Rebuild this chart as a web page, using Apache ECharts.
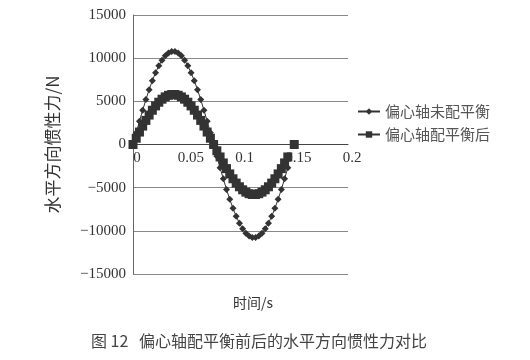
<!DOCTYPE html>
<html><head><meta charset="utf-8">
<script src="https://cdn.jsdelivr.net/npm/echarts@6/dist/echarts.min.js"></script>
<style>html,body{margin:0;padding:0;background:#fff}#c{width:530px;height:360px}</style>
</head><body><div id="c"></div>
<script>
var times = [0,0.003,0.006,0.009,0.012,0.015,0.018,0.021,0.024,0.027,0.03,0.033,0.036,0.039,0.042,0.045,0.048,0.051,0.054,0.057,0.06,0.063,0.066,0.069,0.072,0.075,0.078,0.081,0.084,0.087,0.09,0.093,0.096,0.099,0.102,0.105,0.108,0.111,0.114,0.117,0.12,0.123,0.126,0.129,0.132,0.135,0.138,0.141,0.144,0.147,0.15];
var unbalanced = [0,1353,2686,3975,5203,6348,7393,8321,9118,9772,10272,10609,10778,10778,10609,10272,9772,9118,8321,7393,6348,5203,3975,2686,1353,0,-1353,-2686,-3975,-5203,-6348,-7393,-8321,-9118,-9772,-10272,-10609,-10778,-10778,-10609,-10272,-9772,-9118,-8321,-7393,-6348,-5203,-3975,-2686,null,null];
var balanced = [0,727,1442,2135,2794,3409,3970,4469,4897,5248,5516,5697,5788,5788,5697,5516,5248,4897,4469,3970,3409,2794,2135,1442,727,0,-727,-1442,-2135,-2794,-3409,-3970,-4469,-4897,-5248,-5516,-5697,-5788,-5788,-5697,-5516,-5248,-4897,-4469,-3970,-3409,-2794,-2135,-1442,null,0];
var seriesNames = ['偏心轴未配平衡','偏心轴配平衡后'];
var xTitle = '时间/s';
var yTitle = '水平方向惯性力/N';
var caption = '图 12   偏心轴配平衡前后的水平方向惯性力对比';

function pairs(vals){ return times.map(function(t,i){ return [t, vals[i]]; }); }
var serif = '"Liberation Serif","DejaVu Serif",serif';
var cjk = '"Noto Sans CJK SC","Noto Sans",sans-serif';
var chart = echarts.init(document.getElementById('c'));
chart.setOption({
  animation:false,
  backgroundColor:'#fff',
  grid:{left:133,right:182,top:15,bottom:86,containLabel:false},
  title:[
    {text:xTitle,left:228,top:291,textStyle:{fontFamily:cjk,fontSize:14,fontWeight:'normal',color:'#333'}},
    {text:caption,left:86,top:328,textStyle:{fontFamily:cjk,fontSize:16,fontWeight:'normal',color:'#444'}}
  ],
  legend:{
    orient:'vertical',left:352,top:99,itemGap:8,itemWidth:22,itemHeight:8,
    textStyle:{fontFamily:cjk,fontSize:15,color:'#555'},
    data:seriesNames
  },
  xAxis:{
    type:'value',min:0,max:0.2,interval:0.05,
    offset:-129.5,
    axisLine:{onZero:false,lineStyle:{color:'#444',width:1}},
    axisTick:{show:false},
    splitLine:{show:false},
    axisLabel:{fontFamily:serif,fontSize:15,color:'#333',margin:6,padding:[0,0,0,8]}
  },
  yAxis:{
    type:'value',min:-15000,max:15000,interval:5000,
    name:yTitle,nameLocation:'middle',nameGap:72,
    nameTextStyle:{fontFamily:cjk,fontSize:17,color:'#333'},
    axisLine:{show:true,lineStyle:{color:'#666',width:1}},
    axisTick:{show:false},
    splitLine:{show:true,lineStyle:{color:'#888',width:1}},
    axisLabel:{fontFamily:serif,fontSize:15,color:'#333',margin:7,
      formatter:function(v){ return v<0 ? '\u2212'+(-v) : String(v); }}
  },
  series:[
    {name:seriesNames[0],type:'line',data:pairs(unbalanced),symbol:'diamond',symbolSize:7,
     lineStyle:{color:'#333',width:1},itemStyle:{color:'#333'},connectNulls:false},
    {name:seriesNames[1],type:'line',data:pairs(balanced),symbol:'rect',symbolSize:9,
     lineStyle:{color:'#333',width:1},itemStyle:{color:'#333'},connectNulls:false}
  ]
});
</script></body></html>
